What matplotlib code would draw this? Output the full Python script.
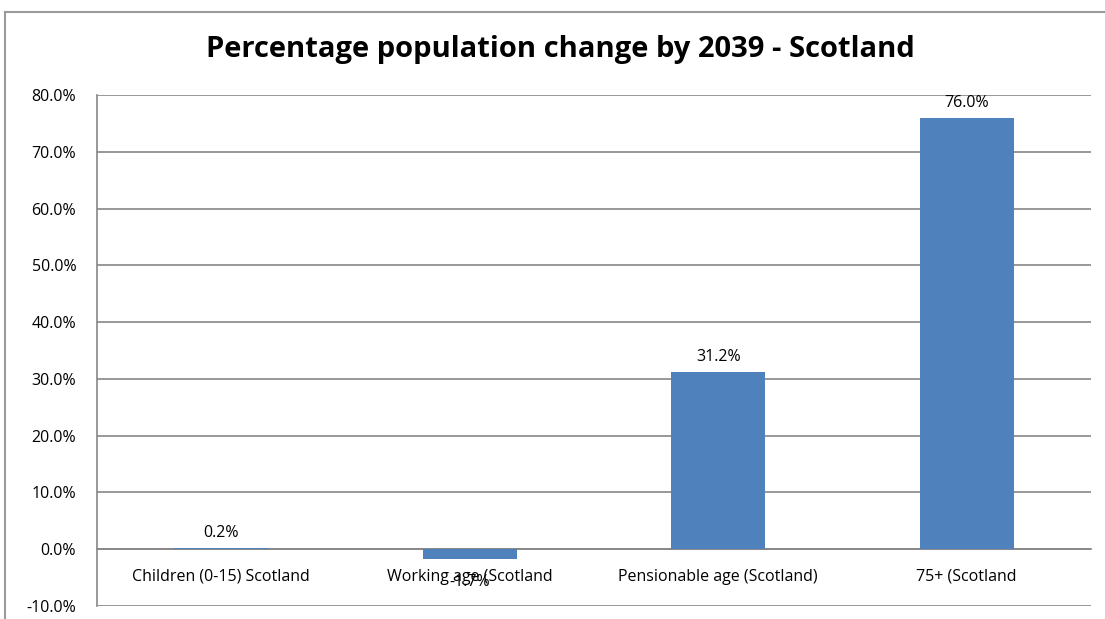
import matplotlib
matplotlib.use('Agg')
import matplotlib.pyplot as plt
from matplotlib.lines import Line2D
from matplotlib.ticker import FuncFormatter

# data
categories = ['Children (0-15) Scotland', 'Working age (Scotland', 'Pensionable age (Scotland)', '75+ (Scotland']
change_pct = [0.2, -1.7, 31.2, 76.0]
title = 'Percentage population change by 2039 - Scotland'

bar_color = '#4F81BD'
grid_color = '#868686'

plt.rcParams['font.family'] = ['Open Sans', 'DejaVu Sans']

fig = plt.figure(figsize=(11.05, 6.19), dpi=100)
ax = fig.add_axes([97/1105, 1-606/619, (1091-97)/1105, (606-95)/619])

xpos = list(range(len(categories)))
ax.bar(xpos, change_pct, width=0.38, color=bar_color, zorder=3)

ax.set_xlim(-0.5, len(categories)-0.5)
ax.set_ylim(-10, 80)
ax.set_yticks(range(-10, 81, 10))
ax.yaxis.set_major_formatter(FuncFormatter(lambda v, p: '%.1f%%' % v))
ax.grid(axis='y', color=grid_color, linewidth=1.2, zorder=0)
ax.set_axisbelow(True)

for s in ['top', 'right']:
    ax.spines[s].set_visible(False)
ax.spines['left'].set_color(grid_color)
ax.spines['left'].set_linewidth(1.2)
ax.spines['bottom'].set_position(('data', 0))
ax.spines['bottom'].set_color(grid_color)
ax.spines['bottom'].set_linewidth(1.2)

ax.tick_params(axis='y', length=0, labelsize=11.5, pad=15)
ax.set_xticks(xpos)
ax.set_xticklabels(categories)
ax.tick_params(axis='x', length=0, labelsize=11.5, pad=14)

for x, v in zip(xpos, change_pct):
    if v >= 0:
        ax.annotate('%.1f%%' % v, (x, v), xytext=(0, 5), textcoords='offset points',
                    ha='center', va='bottom', fontsize=11.5)
    else:
        ax.annotate('%.1f%%' % v, (x, v), xytext=(0, -11), textcoords='offset points',
                    ha='center', va='top', fontsize=11.5)

fig.text(560/1105, 1-49/619, title, ha='center', va='center', fontsize=21, fontweight='bold')

# outer chart frame
fig.add_artist(Line2D([5/1105, 5/1105], [0, 1-12/619], transform=fig.transFigure, color='#9a9a9a', linewidth=1.5))
fig.add_artist(Line2D([5/1105, 1], [1-12/619, 1-12/619], transform=fig.transFigure, color='#9a9a9a', linewidth=1.5))

fig.savefig('out.png', dpi=100)
